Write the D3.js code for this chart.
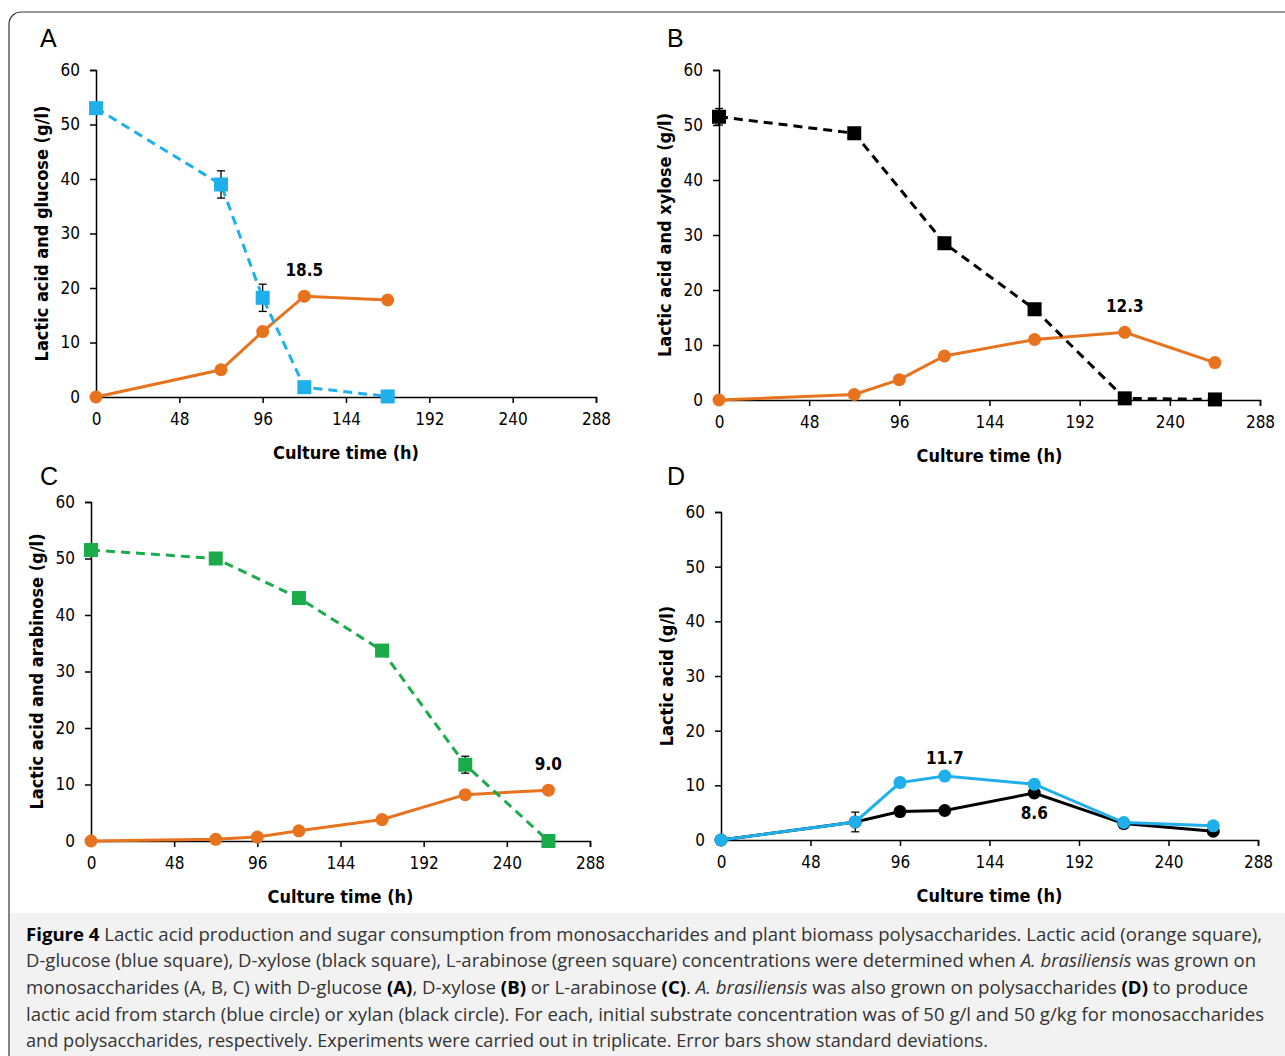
<!DOCTYPE html>
<html><head><meta charset="utf-8">
<script src="https://cdn.jsdelivr.net/npm/d3@7"></script>
<style>body{margin:0;background:#fff}</style></head>
<body><svg id="c" width="1285" height="1056"></svg>
<script>
const xTicks=[0,48,96,144,192,240,288];
const yTicks=[0,10,20,30,40,50,60];
const tA=[0,72,96,120,168];
const glucose=[53,39,18.2,1.8,0.1];
const glucoseErr=[0,2.5,2.5,0,0];
const lacticA=[0,5,12,18.5,17.8];
const tB=[0,72,120,168,216,264];
const xylose=[51.5,48.5,28.5,16.5,0.3,0.1];
const xyloseErr=[1.5,0,0,0,0,0];
const t7=[0,72,96,120,168,216,264];
const lacticB=[0,1,3.7,8,11,12.3,6.8];
const arabinose=[51.5,50,43,33.7,13.5,0];
const arabinoseErr=[0,0,1,0,1.5,0];
const lacticC=[0,0.3,0.7,1.8,3.8,8.2,9];
const starch=[0,3.3,10.5,11.7,10.2,3.2,2.6];
const starchErr=[0,1.8,0,0.8,0,0,0];
const xylan=[0,3.3,5.2,5.4,8.6,3,1.6];
const ORANGE="#e8731f",BLUE="#1fb0ec",GREEN="#1bab4b",BLACK="#000";
const NARROW="'DejaVu Sans Condensed','Liberation Sans Narrow',sans-serif";
const svg=d3.select("#c");
svg.append("rect").attr("x",9).attr("y",12).attr("width",1290).attr("height",1060).attr("rx",12).attr("fill","none").attr("stroke","#333").attr("stroke-width",1.2);
svg.append("rect").attr("x",10).attr("y",913).attr("width",1275).attr("height",143).attr("fill","#f2f2f2");

function panel(p){
  const x=d3.scaleLinear().domain([0,288]).range([p.x0,p.x1]);
  const y=d3.scaleLinear().domain([0,60]).range([p.y0,p.y1]);
  const g=svg.append("g");
  const ax=g.append("g").attr("transform",`translate(0,${p.y0})`).call(d3.axisBottom(x).tickValues(xTicks).tickSize(6).tickPadding(10));
  const ay=g.append("g").attr("transform",`translate(${p.x0},0)`).call(d3.axisLeft(y).tickValues(yTicks).tickSize(6).tickPadding(10));
  [ax,ay].forEach(a=>{a.selectAll("text").attr("font-family",NARROW).attr("font-size",17).attr("fill","#000");a.selectAll("path,line").attr("stroke","#000").attr("stroke-width",1.5);});
  g.append("text").attr("x",(p.x0+p.x1)/2).attr("y",p.y0+62).attr("text-anchor","middle").attr("font-family",NARROW).attr("font-weight","bold").attr("font-size",18).text("Culture time (h)");
  g.append("text").attr("transform",`translate(${p.x0-48},${(p.y0+p.y1)/2}) rotate(-90)`).attr("text-anchor","middle").attr("font-family",NARROW).attr("font-weight","bold").attr("font-size",18).text(p.ylab);
  g.append("text").attr("x",p.lx).attr("y",p.ly).attr("font-family","Liberation Sans,Arial").attr("font-size",25).text(p.letter);
  p.series.forEach(s=>{
    const pts=s.t.map((t,i)=>[t,s.v[i],s.e?s.e[i]:0]);
    g.append("path").attr("d",d3.line().x(d=>x(d[0])).y(d=>y(d[1]))(pts)).attr("fill","none").attr("stroke",s.c).attr("stroke-width",3).attr("stroke-dasharray",s.dash?"9,6":null);
    pts.filter(d=>d[2]>0).forEach(d=>{
      const ex=x(d[0]);
      g.append("line").attr("x1",ex).attr("x2",ex).attr("y1",y(d[1]-d[2])).attr("y2",y(d[1]+d[2])).attr("stroke","#000").attr("stroke-width",1.3);
      [d[1]-d[2],d[1]+d[2]].forEach(v=>g.append("line").attr("x1",ex-4).attr("x2",ex+4).attr("y1",y(v)).attr("y2",y(v)).attr("stroke","#000").attr("stroke-width",1.3));
    });
    pts.forEach(d=>{
      if(s.m==="sq") g.append("rect").attr("x",x(d[0])-7).attr("y",y(d[1])-7).attr("width",14).attr("height",14).attr("fill",s.c);
      else g.append("circle").attr("cx",x(d[0])).attr("cy",y(d[1])).attr("r",6.5).attr("fill",s.c);
    });
  });
  p.labels.forEach(l=>g.append("text").attr("x",x(l[0])).attr("y",y(l[1])+l[2]).attr("text-anchor","middle").attr("font-family",NARROW).attr("font-weight","bold").attr("font-size",17).text(l[3]));
}
panel({x0:96,x1:596,y0:397,y1:70,letter:"A",lx:40,ly:47,ylab:"Lactic acid and glucose (g/l)",
  series:[{t:tA,v:lacticA,c:ORANGE,m:"c"},{t:tA,v:glucose,e:glucoseErr,c:BLUE,m:"sq",dash:1}],
  labels:[[120,18.5,-20,"18.5"]]});
panel({x0:719,x1:1260,y0:400,y1:70,letter:"B",lx:667,ly:47,ylab:"Lactic acid and xylose (g/l)",
  series:[{t:t7,v:lacticB,c:ORANGE,m:"c"},{t:tB,v:xylose,e:xyloseErr,c:BLACK,m:"sq",dash:1}],
  labels:[[216,12.3,-20,"12.3"]]});
panel({x0:91,x1:590,y0:841,y1:502,letter:"C",lx:40,ly:485,ylab:"Lactic acid and arabinose (g/l)",
  series:[{t:t7,v:lacticC,c:ORANGE,m:"c"},{t:tB,v:arabinose,e:arabinoseErr,c:GREEN,m:"sq",dash:1}],
  labels:[[264,9,-20,"9.0"]]});
panel({x0:721,x1:1258,y0:840,y1:512,letter:"D",lx:667,ly:485,ylab:"Lactic acid (g/l)",
  series:[{t:t7,v:xylan,c:BLACK,m:"c"},{t:t7,v:starch,e:starchErr,c:BLUE,m:"c"}],
  labels:[[120,11.7,-12,"11.7"],[168,8.6,26,"8.6"]]});

const lines=[
 [["b","Figure 4"],["n"," Lactic acid production and sugar consumption from monosaccharides and plant biomass polysaccharides. Lactic acid (orange square),"]],
 [["n","D-glucose (blue square), D-xylose (black square), L-arabinose (green square) concentrations were determined when "],["i","A. brasiliensis"],["n"," was grown on"]],
 [["n","monosaccharides (A, B, C) with D-glucose "],["b","(A)"],["n",", D-xylose "],["b","(B)"],["n"," or L-arabinose "],["b","(C)"],["n",". "],["i","A. brasiliensis"],["n"," was also grown on polysaccharides "],["b","(D)"],["n"," to produce"]],
 [["n","lactic acid from starch (blue circle) or xylan (black circle). For each, initial substrate concentration was of 50 g/l and 50 g/kg for monosaccharides"]],
 [["n","and polysaccharides, respectively. Experiments were carried out in triplicate. Error bars show standard deviations."]]];
const ys=[941,967,994,1021,1047];
const lens=[1236,1230,1222,1238,962];
lines.forEach((ln,i)=>{
  const t=svg.append("text").attr("x",26).attr("y",ys[i]).attr("font-family","'Open Sans',sans-serif").attr("font-size",17.6).attr("fill","#333")
    .attr("textLength",lens[i]).attr("lengthAdjust","spacingAndGlyphs");
  ln.forEach(s=>{const ts=t.append("tspan").text(s[1]);if(s[0]==="b")ts.attr("font-weight","bold").attr("fill","#000");if(s[0]==="i")ts.attr("font-style","italic");});
});
</script></body></html>
